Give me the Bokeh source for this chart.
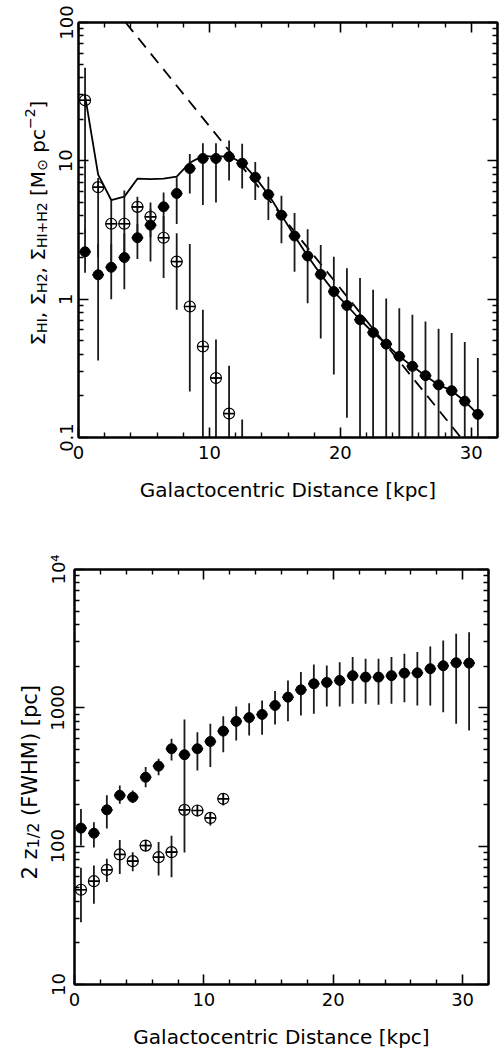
from math import pi
from bokeh.plotting import figure
from bokeh.models import (FixedTicker, LinearAxis, LogAxis, Range1d,
                          ColumnDataSource, CustomJSTickFormatter)
from bokeh.core.properties import value
from bokeh.transform import dodge
from bokeh.layouts import column, row
from bokeh.embed import file_html
from bokeh.resources import INLINE

# ---------------- data: top panel (surface densities) ----------------
r_hi = [0.5, 1.5, 2.5, 3.5, 4.5, 5.5, 6.5, 7.5, 8.5, 9.5, 10.5, 11.5, 12.5, 13.5, 14.5,
        15.5, 16.5, 17.5, 18.5, 19.5, 20.5, 21.5, 22.5, 23.5, 24.5, 25.5, 26.5, 27.5,
        28.5, 29.5, 30.5]
sig_hi = [2.2, 1.5, 1.7, 2.0, 2.78, 3.43, 4.65, 5.81, 8.8, 10.4, 10.4, 10.7, 9.6, 7.6, 5.7,
          4.05, 2.86, 2.05, 1.51, 1.135, 0.90, 0.71, 0.574, 0.473, 0.386, 0.327, 0.28, 0.24,
          0.218, 0.183, 0.147]
sig_hi_lo = [1.55, 0.36, 1.0, 1.18, 1.95, 1.87, 3.0, 3.5, 5.8, 4.8, 5.0, 7.2, 6.3, 5.2, 3.73,
             2.54, 1.58, 0.935, 0.52, 0.285, 0.139, 0.05, 0.05, 0.05, 0.05, 0.05, 0.05, 0.05,
             0.05, 0.05, 0.05]
sig_hi_hi = [3.2, 2.5, 2.5, 3.0, 3.5, 4.5, 5.9, 7.6, 11.2, 13.4, 13.4, 14.0, 13.3, 9.8, 7.66,
             5.6, 4.2, 3.2, 2.46, 2.03, 1.67, 1.42, 1.17, 1.01, 0.86, 0.77, 0.69, 0.61,
             0.57, 0.49, 0.375]

r_h2 = [0.5, 1.5, 2.5, 3.5, 4.5, 5.5, 6.5, 7.5, 8.5, 9.5, 10.5, 11.5, 12.5]
sig_h2 = [27.4, 6.45, 3.51, 3.51, 4.65, 3.94, 2.78, 1.87, 0.885, 0.455, 0.269, 0.149, 0.05]
sig_h2_lo = [3.0, 2.0, 1.8, 2.0, 3.0, 2.8, 1.42, 0.84, 0.215, 0.05, 0.05, 0.08, 0.01]
sig_h2_hi = [47.0, 7.5, 5.2, 6.1, 5.5, 5.0, 4.0, 3.0, 2.5, 0.84, 0.51, 0.33, 0.135]

# exponential fit (straight line on the log axis), end points
fit_r = [3.6, 29.2]
fit_sig = [100.0, 0.1]

# ---------------- data: bottom panel (FWHM thickness) ----------------
r_w_hi = r_hi
fwhm_hi = [135, 124, 183, 233, 226, 315, 379, 506, 458, 506, 571, 679, 798, 850, 896, 1040,
           1194, 1350, 1494, 1527, 1578, 1708, 1668, 1668, 1708, 1782, 1790, 1918, 2014,
           2118, 2105]
fwhm_hi_lo = [101, 98, 134, 203, 205, 267, 325, 417, 90, 353, 373, 478, 581, 631, 639, 759,
              801, 881, 906, 1023, 1023, 1071, 1071, 1052, 1071, 1099, 1040, 1040, 931,
              767, 687]
fwhm_hi_hi = [186, 149, 233, 275, 253, 373, 428, 598, 825, 667, 767, 871, 1023, 1081, 1130,
              1321, 1578, 1812, 2060, 2027, 2139, 2326, 2264, 2264, 2326, 2460, 2529, 2779,
              3070, 3428, 3524]

r_w_h2 = [0.5, 1.5, 2.5, 3.5, 4.5, 5.5, 6.5, 7.5, 8.5, 9.5, 10.5, 11.5]
fwhm_h2 = [48.4, 55.8, 67.5, 87.1, 77.9, 101, 83.2, 90.5, 183, 181, 160, 220]
fwhm_h2_lo = [28.2, 38.3, 55, 63, 65.9, 93, 61.4, 59.7, 170, 164, 141, 197]
fwhm_h2_hi = [69.8, 72.5, 81, 111, 90.5, 109, 107, 119, 197, 197, 176, 242]

# ---------------- ticks and titles ----------------
x_major = [0, 10, 20, 30]
x_major_labels = ["0", "10", "20", "30"]
x_minor = [2, 4, 6, 8, 12, 14, 16, 18, 22, 24, 26, 28, 32]
y1_major = [0.1, 1, 10, 100]
y1_major_labels = ["0.1", "1", "10", "100"]
y2_major = [10, 100, 1000, 10000]
y2_major_labels = ["10", "100", "1000", "10\u2074"]

x_title = "Galactocentric Distance [kpc]"

FONT = "DejaVu Sans"
X_RANGE = (0, 32)
H = 528


def minor_log(majors):
    out = []
    for m in majors[:-1]:
        for k in range(2, 10):
            out.append(m * k)
    return out


def fmt(ticks, labels):
    return CustomJSTickFormatter(args=dict(tv=ticks, tl=labels), code="""
        for (let i = 0; i < tv.length; i++) {
            if (Math.abs(tv[i] - tick) <= 1e-9 * Math.max(1, Math.abs(tv[i]))) return tl[i];
        }
        return '';
    """)


def style_axis(ax, show_labels, standoff=8):
    ax.axis_line_color = "black"
    ax.axis_line_width = 2
    ax.major_tick_in = 10
    ax.major_tick_out = 0
    ax.minor_tick_in = 5
    ax.minor_tick_out = 0
    ax.major_tick_line_color = "black"
    ax.minor_tick_line_color = "black"
    ax.major_tick_line_width = 1.6
    ax.minor_tick_line_width = 1.4
    if show_labels:
        ax.major_label_text_font = FONT
        ax.major_label_text_font_size = "18px"
        ax.major_label_text_color = "black"
        ax.major_label_standoff = standoff
    else:
        ax.major_label_text_font_size = "0px"
        ax.major_label_standoff = 0
        ax.formatter = CustomJSTickFormatter(code="return '';")


# approximate advance widths (em) for DejaVu Sans, used to lay out rotated label pieces
W = {"Σ": 0.631, "H": 0.752, "I": 0.295, ",": 0.318, " ": 0.318, "2": 0.636, "1": 0.636,
     "+": 0.838, "[": 0.390, "]": 0.390, "M": 0.863, "⊙": 0.838, "p": 0.635, "c": 0.550,
     "−": 0.838, "z": 0.525, "/": 0.337, "(": 0.390, ")": 0.390, "F": 0.575, "W": 0.989}


def tw(s, size):
    return sum(W.get(ch, 0.6) for ch in s) * size


def label_fig(width, bt, bb, pieces, x_base, y_start):
    """Narrow figure holding a rotated, multi-piece axis title.  Its frame has the
    same vertical extent as the neighbouring plot, coordinates are frame pixels."""
    fh = H - bt - bb
    lf = figure(width=width, height=H, x_range=Range1d(0, width), y_range=Range1d(0, fh),
                x_axis_type=None, y_axis_type=None, output_backend="svg",
                toolbar_location=None, min_border_left=0, min_border_right=0,
                min_border_top=bt, min_border_bottom=bb)
    lf.outline_line_color = None
    lf.xgrid.visible = False
    lf.ygrid.visible = False
    xs, ys, texts, sizes = [], [], [], []
    y = y_start
    for txt, size, shift in pieces:
        stripped = txt.lstrip(" ")
        lead = tw(txt[:len(txt) - len(stripped)], size)
        xs.append(x_base + shift)
        ys.append(y + lead)
        texts.append(stripped)
        sizes.append(f"{size}px")
        y += tw(txt, size)
    src = ColumnDataSource(dict(x=xs, y=ys, text=texts, size=sizes))
    lf.text(x="x", y="y", text="text", source=src, angle=pi / 2,
            text_font=value(FONT), text_font_size="size", text_baseline="alphabetic",
            text_align="left", text_color="black")
    return lf


def make_fig(width, y_rng, y_major, y_labels, bl, br, bt, bb, ystand):
    p = figure(width=width, height=H, x_range=Range1d(*X_RANGE), y_range=Range1d(*y_rng),
               y_axis_type="log", output_backend="svg", toolbar_location=None,
               min_border_left=bl, min_border_right=br, min_border_top=bt,
               min_border_bottom=bb)
    p.xgrid.visible = False
    p.ygrid.visible = False
    p.outline_line_color = "black"
    p.outline_line_width = 2
    p.background_fill_color = "white"
    p.border_fill_color = "white"

    bx = p.xaxis[0]
    bx.ticker = FixedTicker(ticks=x_major, minor_ticks=x_minor)
    bx.formatter = fmt(x_major, x_major_labels)
    style_axis(bx, True)
    bx.axis_label = x_title
    bx.axis_label_text_font = FONT
    bx.axis_label_text_font_size = "20px"
    bx.axis_label_text_font_style = "normal"
    bx.axis_label_text_color = "black"
    bx.axis_label_standoff = 16

    ly = p.yaxis[0]
    ly.ticker = FixedTicker(ticks=y_major, minor_ticks=minor_log(y_major))
    ly.formatter = fmt(y_major, y_labels)
    style_axis(ly, True, ystand)
    ly.major_label_orientation = "vertical"

    tx = LinearAxis(ticker=FixedTicker(ticks=x_major, minor_ticks=x_minor))
    style_axis(tx, False)
    p.add_layout(tx, "above")
    ry = LogAxis(ticker=FixedTicker(ticks=y_major, minor_ticks=minor_log(y_major)))
    style_axis(ry, False)
    p.add_layout(ry, "right")
    return p


def draw_points(p, xs, ys, lo, hi, filled):
    src = ColumnDataSource(dict(x=xs, y=ys, lo=lo, hi=hi))
    p.segment(x0="x", x1="x", y0="lo", y1="hi", source=src, line_color="#1a1a1a",
              line_width=1.8)
    p.segment(x0=dodge("x", -0.45), x1=dodge("x", 0.45), y0="y", y1="y", source=src,
              line_color="black", line_width=1.6)
    if filled:
        p.scatter("x", "y", source=src, marker="circle", size=10, fill_color="black",
                  line_color="black")
    else:
        p.scatter("x", "y", source=src, marker="circle_cross", size=11, fill_color=None,
                  line_color="black", line_width=1.2)


# ---------------- top panel ----------------
L1 = 50
Y1 = (0.1, 100)
p1 = make_fig(502 - L1, Y1, y1_major, y1_major_labels, 78 - L1, 5, 22, 91, 6)
h2_pad = sig_h2 + [0.0] * (len(sig_hi) - len(sig_h2))
total = [a + b for a, b in zip(sig_hi, h2_pad)]
p1.line(fit_r, fit_sig, line_color="black", line_width=1.8, line_dash="12 8")
p1.line(r_hi, total, line_color="black", line_width=1.8)
draw_points(p1, r_h2, sig_h2, sig_h2_lo, sig_h2_hi, False)
draw_points(p1, r_hi, sig_hi, sig_hi_lo, sig_hi_hi, True)
S, s = 20, 14
lab1 = label_fig(L1, 22, 91,
                 [("Σ", S, 0), ("HI", s, 4), (", ", S, 0), ("Σ", S, 0), ("H2", s, 4),
                  (", ", S, 0), ("Σ", S, 0), ("HI+H2", s, 4), (" [M", S, 0),
                  ("⊙", s, 4), (" pc", S, 0), ("−2", s, -8), ("]", S, 0)],
                 37, 92)

# ---------------- bottom panel ----------------
L2 = 44
Y2 = (10, 10000)
p2 = make_fig(502 - L2, Y2, y2_major, y2_major_labels, 72 - L2, 14, 41, 72, 6)
draw_points(p2, r_w_h2, fwhm_h2, fwhm_h2_lo, fwhm_h2_hi, False)
draw_points(p2, r_w_hi, fwhm_hi, fwhm_hi_lo, fwhm_hi_hi, True)
S2, s2 = 21, 16
lab2 = label_fig(L2, 41, 72, [("2 z", S2, 0), ("1/2", s2, 4), (" (FWHM) [pc]", S2, 0)],
                 29, 105)

layout = column(row(lab1, p1, spacing=0), row(lab2, p2, spacing=0), spacing=0)
open("out.html", "w").write(file_html(layout, INLINE))
